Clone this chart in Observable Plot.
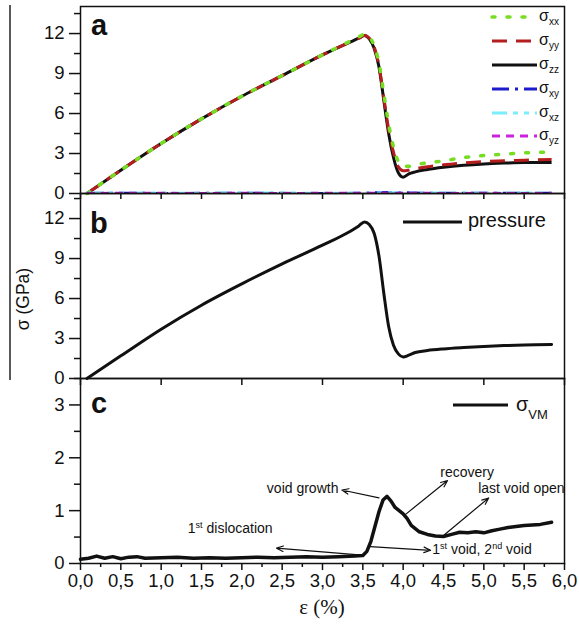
<!DOCTYPE html>
<html><head><meta charset="utf-8">
<script src="https://cdn.jsdelivr.net/npm/d3@7"></script>
<script src="https://cdn.jsdelivr.net/npm/@observablehq/plot@0.6"></script>
<style>
html,body{margin:0;padding:0;background:#fff;}
#wrap{position:relative;width:579px;height:624px;overflow:hidden;background:#fff;}
</style></head><body><div id="wrap"></div>
<script>
// ---------- data ----------
// panel a : normal stresses (GPa) vs strain (%)
const epsA = [0.08, 0.5, 1.0, 1.5, 2.0, 2.5, 3.0, 3.3, 3.45, 3.52, 3.58, 3.64, 3.70, 3.76, 3.82, 3.88, 3.94, 4.0, 4.07, 4.15, 4.3, 4.5, 4.75, 5.0, 5.25, 5.5, 5.84];
const sigmaZZ = [0, 1.75, 3.75, 5.6, 7.3, 8.85, 10.4, 11.25, 11.65, 11.85, 11.6, 10.9, 9.5, 7.0, 4.5, 2.7, 1.55, 1.22, 1.47, 1.62, 1.8, 1.97, 2.12, 2.22, 2.28, 2.32, 2.32];
const sigmaYY = [0, 1.75, 3.75, 5.6, 7.3, 8.85, 10.4, 11.25, 11.65, 11.85, 11.65, 11.0, 9.6, 7.2, 4.8, 3.1, 2.0, 1.7, 1.75, 1.85, 2.0, 2.15, 2.3, 2.4, 2.45, 2.5, 2.55];
const sigmaXX = [0, 1.75, 3.75, 5.6, 7.3, 8.85, 10.4, 11.3, 11.75, 11.95, 11.75, 11.1, 9.8, 7.5, 5.2, 3.5, 2.4, 2.05, 2.05, 2.15, 2.3, 2.45, 2.7, 2.85, 2.95, 3.05, 3.1];
// panel a : shear stresses
const epsS = [0.08, 0.5, 1.0, 1.5, 2.0, 2.5, 3.0, 3.5, 3.8, 4.0, 4.3, 4.6, 5.0, 5.4, 5.84];
const sigmaXY = [0.05, 0.06, 0.04, 0.05, 0.06, 0.05, 0.04, 0.06, 0.12, 0.1, 0.06, 0.05, 0.06, 0.05, 0.06];
const sigmaXZ = [0.06, 0.08, 0.07, 0.06, 0.08, 0.07, 0.06, 0.07, 0.09, 0.08, 0.08, 0.07, 0.08, 0.07, 0.08];
const sigmaYZ = [0.04, 0.05, 0.05, 0.04, 0.05, 0.04, 0.05, 0.05, 0.06, 0.05, 0.05, 0.04, 0.05, 0.04, 0.05];
// panel b : pressure
const epsB = [0.08, 0.5, 1.0, 1.5, 2.0, 2.5, 3.0, 3.3, 3.45, 3.52, 3.58, 3.64, 3.70, 3.76, 3.82, 3.88, 3.94, 4.0, 4.07, 4.15, 4.3, 4.5, 4.75, 5.0, 5.25, 5.5, 5.84];
const pressure = [0, 1.7, 3.7, 5.5, 7.1, 8.6, 10.0, 10.9, 11.45, 11.75, 11.55, 10.9, 9.2, 6.4, 3.9, 2.5, 1.85, 1.62, 1.75, 1.95, 2.1, 2.22, 2.32, 2.4, 2.47, 2.52, 2.55];
// panel c : von Mises stress
const epsC = [0, 0.1, 0.2, 0.3, 0.4, 0.5, 0.6, 0.7, 0.8, 1.0, 1.2, 1.4, 1.6, 1.8, 2.0, 2.2, 2.4, 2.6, 2.8, 3.0, 3.2, 3.4, 3.5, 3.55, 3.6, 3.65, 3.7, 3.75, 3.8, 3.85, 3.9, 3.95, 4.0, 4.05, 4.1, 4.2, 4.3, 4.4, 4.5, 4.6, 4.7, 4.8, 4.9, 5.0, 5.1, 5.2, 5.3, 5.4, 5.5, 5.6, 5.7, 5.84];
const sigmaVM = [0.08, 0.1, 0.14, 0.1, 0.13, 0.09, 0.12, 0.13, 0.1, 0.11, 0.12, 0.1, 0.11, 0.1, 0.11, 0.12, 0.11, 0.12, 0.13, 0.12, 0.13, 0.14, 0.15, 0.23, 0.42, 0.7, 0.98, 1.2, 1.27, 1.18, 1.06, 1.0, 0.94, 0.85, 0.72, 0.6, 0.55, 0.52, 0.51, 0.55, 0.59, 0.58, 0.6, 0.58, 0.62, 0.65, 0.68, 0.7, 0.72, 0.73, 0.74, 0.78];
// annotations in panel c
const annText = ["void growth", "recovery", "last void open", "1st dislocation", "1st void, 2nd void"];
const annX = [2.31, 4.46, 4.93, 1.33, 4.36];
const annY = [1.41, 1.73, 1.41, 0.66, 0.27];
const arrX1 = [3.49, 3.59, 3.70, 4.03, 4.50];
const arrY1 = [0.16, 0.32, 1.24, 0.93, 0.53];
const arrX2 = [2.43, 4.34, 3.24, 4.55, 5.06];
const arrY2 = [0.29, 0.25, 1.39, 1.57, 1.24];
// ticks
const xTicks = [0, 0.5, 1, 1.5, 2, 2.5, 3, 3.5, 4, 4.5, 5, 5.5, 6];
const xTickLabels = ["0,0", "0,5", "1,0", "1,5", "2,0", "2,5", "3,0", "3,5", "4,0", "4,5", "5,0", "5,5", "6,0"];
const xMinor = [0.25, 0.75, 1.25, 1.75, 2.25, 2.75, 3.25, 3.75, 4.25, 4.75, 5.25, 5.75];
const xTicksB = [0, 1, 2, 3, 4, 5, 6];
const yTicksAB = [0, 3, 6, 9, 12];
const yMinorAB = [1.5, 4.5, 7.5, 10.5, 13.5];
const yTicksC = [0, 1, 2, 3];
const yMinorC = [0.5, 1.5, 2.5, 3.5];
// legend labels
const legA = [["xx", "#77dd22", "3,12"], ["yy", "#b41e1e", "15,9"], ["zz", "#111", null], ["xy", "#1c1ccc", "17,6,3,6"], ["xz", "#7beefc", "15,6,5,6,5,6"], ["yz", "#cc22dd", "8,6"]];

// ---------- build ----------
const FONT = '"Liberation Sans", Arial, sans-serif';
const wrap = document.getElementById("wrap");
const zip = (xs, ys) => xs.map((x, i) => ({x, y: ys[i]}));
const noText = () => "";

function panel(top, height, mt, mb, ydom, marks) {
  const svg = Plot.plot({
    width: 579, height, marginLeft: 80, marginRight: 15, marginTop: mt, marginBottom: mb,
    x: {domain: [0, 6]}, y: {domain: ydom},
    style: {fontFamily: FONT, fontSize: "18.5px", background: "transparent", overflow: "visible", color: "#111"},
    marks
  });
  svg.style.position = "absolute";
  svg.style.left = "0px";
  svg.style.top = top + "px";
  svg.style.overflow = "visible";
  wrap.appendChild(svg);
  return svg;
}

const yAxes = (major, minor) => [
  Plot.axisY({ticks: major, tickSize: 11, tickPadding: 5, strokeWidth: 1.5, label: null, tickFormat: d => String(d)}),
  Plot.axisY({ticks: minor, tickSize: 6, strokeWidth: 1.5, label: null, tickFormat: noText})
];

// panel a
const lineOpts = (color, dash, w) => ({x: "x", y: "y", stroke: color, strokeWidth: w, strokeDasharray: dash || undefined, strokeLinecap: dash && dash.startsWith("3,") ? "round" : "butt", curve: "monotone-x"});
panel(0, 193, 6, 0, [0, 14.03], [
  ...yAxes(yTicksAB, yMinorAB),
  Plot.axisX({ticks: xTicks, anchor: "bottom", tickSize: 6, strokeWidth: 1.5, label: null, tickFormat: noText}),
  Plot.line(zip(epsA, sigmaZZ), lineOpts("#111", null, 3)),
  Plot.line(zip(epsA, sigmaYY), lineOpts("#b41e1e", "15,9", 3)),
  Plot.line(zip(epsA, sigmaXX), lineOpts("#77dd22", "3,12", 3.5)),
  Plot.line(zip(epsS, sigmaXY), lineOpts("#1c1ccc", "17,6,3,6", 2)),
  Plot.line(zip(epsS, sigmaXZ), lineOpts("#7beefc", "15,6,5,6,5,6", 2)),
  Plot.line(zip(epsS, sigmaYZ), lineOpts("#cc22dd", "8,6", 2)),
  Plot.frame({stroke: "#111", strokeWidth: 1.5})
]);

// panel b
panel(193, 185, 0, 0, [0, 13.88], [
  ...yAxes(yTicksAB, yMinorAB),
  Plot.axisX({ticks: xTicksB, anchor: "bottom", tickSize: 7, strokeWidth: 1.5, label: null, tickFormat: noText}),
  Plot.line(zip(epsB, pressure), {x: "x", y: "y", stroke: "#111", strokeWidth: 3, curve: "monotone-x"}),
  Plot.frame({stroke: "#111", strokeWidth: 1.5})
]);

// panel c
const ann = annText.map((t, i) => ({t, x: annX[i], y: annY[i]}));
const arrows = arrX1.map((x1, i) => ({x1, y1: arrY1[i], x2: arrX2[i], y2: arrY2[i]}));
const svgC = panel(378, 246, 0, 61, [0, 3.5], [
  ...yAxes(yTicksC, yMinorC),
  Plot.axisX({ticks: xMinor, anchor: "bottom", tickSize: 4, strokeWidth: 1.5, label: null, tickFormat: noText}),
  Plot.axisX({ticks: xTicks, anchor: "bottom", tickSize: 7, tickPadding: 3, strokeWidth: 1.5, label: null,
    tickFormat: d => xTickLabels[xTicks.indexOf(d)]}),
  Plot.line(zip(epsC, sigmaVM), {x: "x", y: "y", stroke: "#111", strokeWidth: 3.5, curve: "linear", strokeLinejoin: "round"}),
  Plot.arrow(arrows, {x1: "x1", y1: "y1", x2: "x2", y2: "y2", stroke: "#111", strokeWidth: 1.2, headLength: 9, headAngle: 45}),
  Plot.text(ann, {x: "x", y: "y", text: "t", textAnchor: "start", fontSize: 14, fill: "#111"}),
  Plot.frame({stroke: "#111", strokeWidth: 1.5})
]);
// superscripts (1st, 2nd)
svgC.querySelectorAll("text").forEach(el => {
  const s = el.textContent;
  if (s === "1st dislocation" || s === "1st void, 2nd void") {
    const parts = s.split(/(st|nd)(?= )/);
    el.textContent = "";
    let sup = false;
    parts.forEach(p => {
      if (!p) return;
      const ts = document.createElementNS("http://www.w3.org/2000/svg", "tspan");
      if (p === "st" || p === "nd") {
        ts.setAttribute("font-size", "9");
        ts.setAttribute("dy", "-5");
        sup = true;
      } else if (sup) {
        ts.setAttribute("dy", "5");
        sup = false;
      }
      ts.textContent = p;
      el.appendChild(ts);
    });
  }
});

// overlay: legends, panel letters, axis titles
const NS = "http://www.w3.org/2000/svg";
const ov = document.createElementNS(NS, "svg");
ov.setAttribute("width", 579); ov.setAttribute("height", 624);
ov.style.position = "absolute"; ov.style.left = "0px"; ov.style.top = "0px";
ov.style.fontFamily = FONT;
let h = `<line x1="10" y1="5" x2="10" y2="380" stroke="#222" stroke-width="1.5"/>`;
h += `<text x="91" y="35" font-size="29" font-weight="bold" fill="#111">a</text>`;
h += `<text x="90" y="233" font-size="29" font-weight="bold" fill="#111">b</text>`;
h += `<text x="91" y="413" font-size="29" font-weight="bold" fill="#111">c</text>`;
const legY = [17, 41, 65, 89, 113, 136];
legA.forEach(([sub, col, dash], i) => {
  const y = legY[i];
  h += `<line x1="492" x2="537" y1="${y}" y2="${y}" stroke="${col}" stroke-width="${sub === "xx" ? 3.5 : 3}" ${dash ? `stroke-dasharray="${dash}"` : ""} ${sub === "xx" ? 'stroke-linecap="round"' : ""}/>`;
  h += `<text x="539" y="${y + 4}" font-size="16" fill="#111">σ<tspan font-size="10" dy="4">${sub}</tspan></text>`;
});
h += `<line x1="403" x2="462" y1="222" y2="222" stroke="#111" stroke-width="3"/>`;
h += `<text x="468" y="227" font-size="20" fill="#111">pressure</text>`;
h += `<line x1="453" x2="508" y1="405" y2="405" stroke="#111" stroke-width="3"/>`;
h += `<text x="516" y="411" font-size="20" fill="#111">σ<tspan font-size="13" dy="8">VM</tspan></text>`;
h += `<text transform="translate(29,299) rotate(-90)" text-anchor="middle" font-size="17.5" fill="#111">σ (GPa)</text>`;
h += `<text x="322" y="614" text-anchor="middle" font-size="21" font-family="'Liberation Serif', serif" fill="#111">ε (%)</text>`;
ov.innerHTML = h;
wrap.appendChild(ov);
</script>
</body></html>
